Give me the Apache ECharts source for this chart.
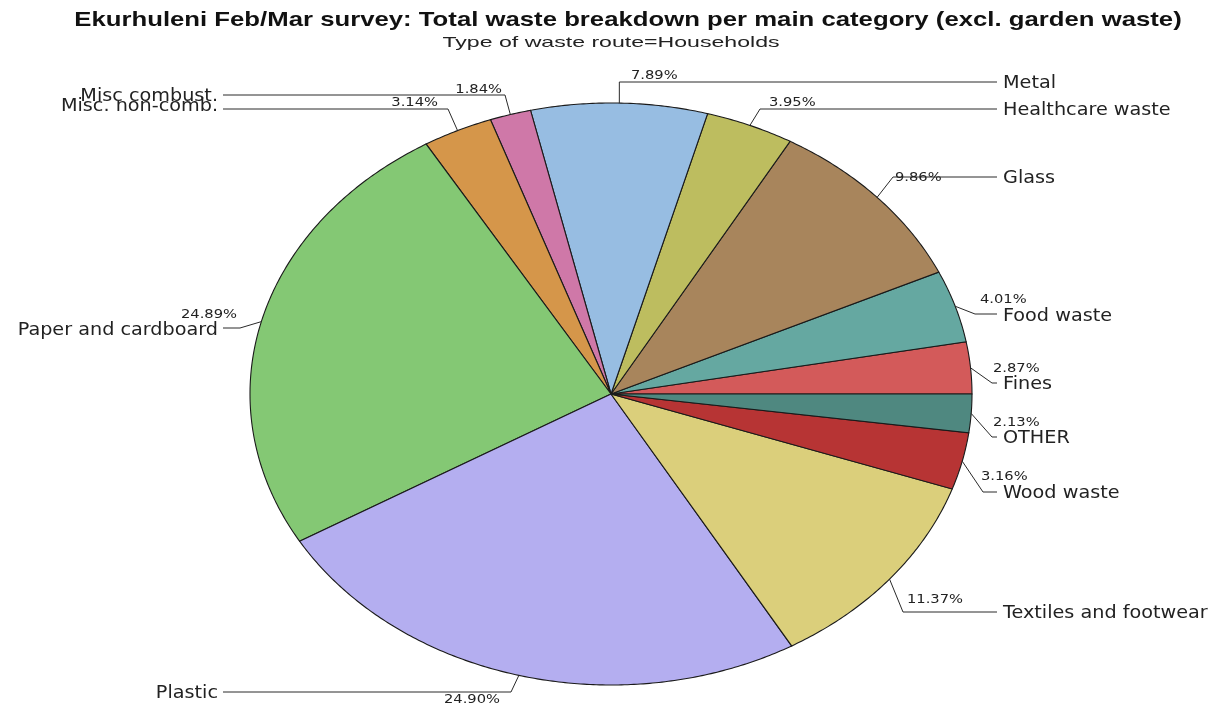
<!DOCTYPE html>
<html>
<head>
<meta charset="utf-8">
<title>Ekurhuleni Feb/Mar survey</title>
<script src="https://cdn.jsdelivr.net/npm/echarts@6/dist/echarts.min.js"></script>
<style>
  html, body { margin: 0; padding: 0; background: #ffffff; }
  #chart { width: 1214px; height: 709px; }
</style>
</head>
<body>
<div id="chart"></div>
<script>
// Waste categories, in drawing order (counter-clockwise from 3 o'clock)
const categories = [
  'Fines', 'Food waste', 'Glass', 'Healthcare waste', 'Metal',
  'Misc combust.', 'Misc. non-comb.', 'Paper and cardboard', 'Plastic',
  'Textiles and footwear', 'Wood waste', 'OTHER'
];

// Share of total household waste, percent
const shares = [2.87, 4.01, 9.86, 3.95, 7.89, 1.84, 3.14, 24.89, 24.90, 11.37, 3.16, 2.13];

// Slice fill colours
const sliceColors = [
  '#d35a5a', '#65a8a1', '#a8855c', '#bdbd5f', '#97bde2', '#cf78a8',
  '#d5964a', '#84c874', '#b4aef0', '#dbcf7b', '#b73434', '#4f8880'
];

const TITLE = 'Ekurhuleni Feb/Mar survey: Total waste breakdown per main category (excl. garden waste)';
const SUBTITLE = 'Type of waste route=Households';

// Elliptical pie geometry
const PIE = { cx: 611, cy: 394, rx: 361, ry: 291 };

// Label placement: y of the leader's horizontal run, elbow x,
// name label y, and anchor of the percentage text
const LABEL_LAYOUT = {
  'Fines':                 { y: 383, ex: 992, ny: 385, px: 993, py: 369, pa: 'left' },
  'Food waste':            { y: 314, ex: 975, ny: 317, px: 980, py: 300, pa: 'left' },
  'Glass':                 { y: 177, ex: 893, ny: 179, px: 895, py: 178, pa: 'left' },
  'Healthcare waste':      { y: 109, ex: 760, ny: 111, px: 769, py: 103, pa: 'left' },
  'Metal':                 { y: 82,  ex: null, ny: 84, px: 631, py: 76,  pa: 'left' },
  'Misc combust.':         { y: 95,  ex: 505, ny: 97,  px: 502, py: 90,  pa: 'right' },
  'Misc. non-comb.':       { y: 109, ex: 448, ny: 107, px: 438, py: 103, pa: 'right' },
  'Paper and cardboard':   { y: 328, ex: 240, ny: 331, px: 237, py: 315, pa: 'right' },
  'Plastic':               { y: 692, ex: 511, ny: 694, px: 500, py: 700, pa: 'right' },
  'Textiles and footwear': { y: 612, ex: 903, ny: 614, px: 907, py: 600, pa: 'left' },
  'Wood waste':            { y: 492, ex: 983, ny: 494, px: 981, py: 477, pa: 'left' },
  'OTHER':                 { y: 437, ex: 992, ny: 439, px: 993, py: 423, pa: 'left' }
};
const RIGHT_LINE_END = 997, RIGHT_TEXT_X = 1003;
const LEFT_LINE_END = 223, LEFT_TEXT_X = 218;
const LABEL_STRETCH = 1.13;   // labels are set slightly wide

const total = shares.reduce((a, b) => a + b, 0);
const cumulative = [];
shares.reduce((acc, v, i) => { cumulative[i] = acc; return acc + v; }, 0);

function ellipsePoint(angle) {
  return [PIE.cx + PIE.rx * Math.cos(angle), PIE.cy - PIE.ry * Math.sin(angle)];
}

function textEl(x, y, text, font, align, stretch, color) {
  return {
    type: 'text',
    x: x, y: y,
    scaleX: stretch,
    style: {
      text: text, font: font, fill: color || '#222222',
      align: align, verticalAlign: 'middle',
      textAlign: align, textVerticalAlign: 'middle'
    }
  };
}

function renderSlice(params, api) {
  const i = params.dataIndex;
  const value = api.value(1);
  const a0 = cumulative[i] / total * Math.PI * 2;
  const a1 = (cumulative[i] + value) / total * Math.PI * 2;

  // slice outline as a polygon following the ellipse
  const pts = [[PIE.cx, PIE.cy]];
  const steps = Math.max(2, Math.ceil((a1 - a0) / (Math.PI / 360)));
  for (let k = 0; k <= steps; k++) {
    pts.push(ellipsePoint(a0 + (a1 - a0) * k / steps));
  }

  const name = categories[i];
  const lay = LABEL_LAYOUT[name];
  const mid = (a0 + a1) / 2;
  const edge = ellipsePoint(mid);
  const rightSide = Math.cos(mid) >= 0;
  const ex = lay.ex == null ? edge[0] : lay.ex;
  const lineEnd = rightSide ? RIGHT_LINE_END : LEFT_LINE_END;

  return {
    type: 'group',
    children: [
      {
        type: 'polygon',
        shape: { points: pts },
        style: { fill: sliceColors[i], stroke: '#1a1a1a', lineWidth: 1.1 }
      },
      {
        type: 'polyline',
        shape: { points: [edge, [ex, lay.y], [lineEnd, lay.y]] },
        style: { fill: null, stroke: '#2a2a2a', lineWidth: 1 }
      },
      textEl(rightSide ? RIGHT_TEXT_X : LEFT_TEXT_X, lay.ny, name,
             '17px "DejaVu Sans"', rightSide ? 'left' : 'right', LABEL_STRETCH),
      textEl(lay.px, lay.py, value.toFixed(2) + '%', '13px "DejaVu Sans"', lay.pa, LABEL_STRETCH)
    ]
  };
}

const chart = echarts.init(document.getElementById('chart'), null, { renderer: 'canvas' });
chart.setOption({
  animation: false,
  backgroundColor: '#ffffff',
  graphic: {
    elements: [
      textEl(628, 20, TITLE, 'bold 21px "Liberation Sans"', 'center', 1.225, '#111111'),
      textEl(611, 43, SUBTITLE, '15px "Liberation Sans"', 'center', 1.54, '#222222')
    ]
  },
  series: [{
    type: 'custom',
    coordinateSystem: 'none',
    data: shares.map((v, i) => [i, v]),
    renderItem: renderSlice
  }]
});
</script>
</body>
</html>
